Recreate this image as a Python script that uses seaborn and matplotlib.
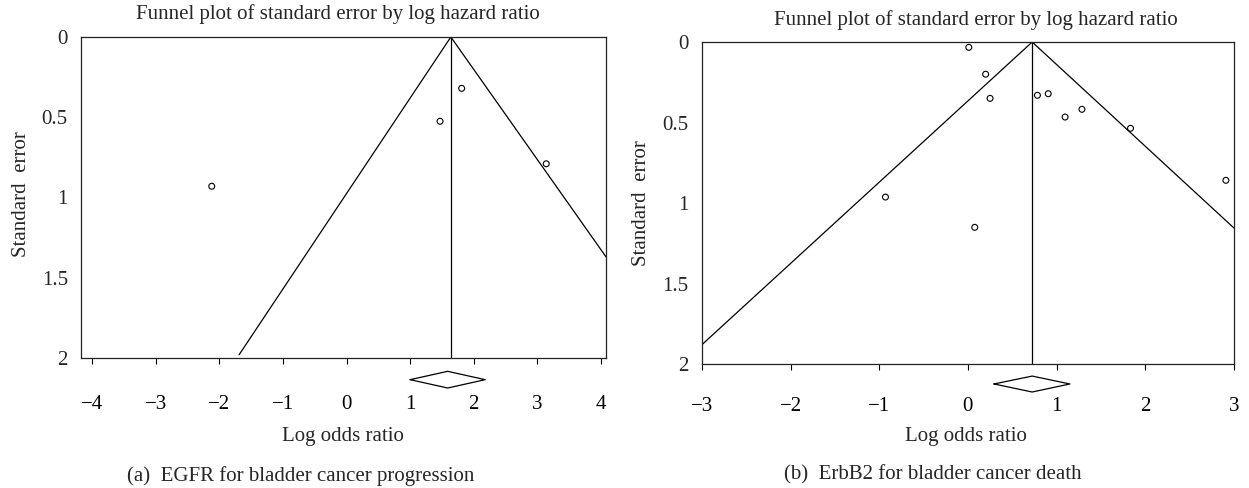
import matplotlib
matplotlib.use("Agg")
import matplotlib.pyplot as plt
import pandas as pd
import seaborn as sns

sns.set_theme(style="white")
plt.rcParams["font.family"] = ["Liberation Serif", "DejaVu Serif"]

# Dados - painel (a) EGFR
a_log_or = [-2.12, 1.47, 1.81, 3.14]
a_se = [0.93, 0.525, 0.32, 0.79]
a_pooled = 1.64
a_funnel_x = [-1.69, 1.64, 4.08]
a_funnel_y = [1.98, 0.0, 1.37]
a_diamond_x = [1.0, 1.59, 2.18, 1.59, 1.0]
a_diamond_y = [2.135, 2.083, 2.135, 2.187, 2.135]
a_xticks = [-4, -3, -2, -1, 0, 1, 2, 3, 4]
a_xlim = (-4.175, 4.08)

# Dados - painel (b) ErbB2
b_log_or = [0.01, 0.2, 0.25, -0.93, 0.077, 0.784, 0.906, 1.096, 1.286, 1.834, 2.91]
b_se = [0.033, 0.20, 0.35, 0.963, 1.151, 0.331, 0.321, 0.466, 0.418, 0.536, 0.859]
b_pooled = 0.725
b_funnel_x = [-3.0, 0.725, 3.0]
b_funnel_y = [1.88, 0.0, 1.155]
b_diamond_x = [0.294, 0.725, 1.15, 0.725, 0.294]
b_diamond_y = [2.124, 2.075, 2.124, 2.174, 2.124]
b_xticks = [-3, -2, -1, 0, 1, 2, 3]
b_xlim = (-3.0, 3.0)

yticks = [0, 0.5, 1, 1.5, 2]
ytick_labels = ["0", "0.5", "1", "1.5", "2"]

TITULO = "Funnel plot of standard error by log hazard ratio"
FS = 15

fig = plt.figure(figsize=(12.49, 4.88), dpi=100)
ax_a = fig.add_axes([0.0649, 0.2664, 0.4203, 0.6578])
ax_b = fig.add_axes([0.5620, 0.2541, 0.4259, 0.6598])


def desenhar(ax, log_or, se, pooled, fx, fy, dx, dy, xticks, xlim,
             title_pos, ylabel_pos, xlabel_pos, xpad):
    df = pd.DataFrame({"log_or": log_or, "se": se})
    funil = pd.DataFrame({"x": fx, "y": fy})
    sns.lineplot(data=funil, x="x", y="y", sort=False, color="black",
                 linewidth=0.9, ax=ax)
    ax.plot([pooled, pooled], [0, 2], color="black", linewidth=0.9)
    sns.scatterplot(data=df, x="log_or", y="se", marker="o", s=18,
                    facecolor="none", edgecolor="black", linewidth=0.8,
                    ax=ax, zorder=3)
    ax.plot(dx, dy, color="black", linewidth=0.9, clip_on=False)

    ax.set_xlim(*xlim)
    ax.set_ylim(2, 0)
    ax.set_xticks(xticks)
    ax.set_yticks(yticks)
    ax.set_yticklabels(ytick_labels)
    ax.tick_params(axis="x", bottom=True, length=4, width=0.8, direction="out",
                   pad=xpad, labelsize=FS, colors="black")
    ax.tick_params(axis="y", left=False, length=0, pad=9.5, labelsize=FS)
    for s in ax.spines.values():
        s.set_color("#222222")
        s.set_linewidth(0.9)
    ax.set_title(TITULO, fontsize=FS, x=title_pos[0], y=title_pos[1], pad=0)
    ax.title.set_va("center")
    ax.set_ylabel("Standard  error", fontsize=FS, va="center")
    ax.yaxis.set_label_coords(*ylabel_pos)
    ax.set_xlabel("Log odds ratio", fontsize=FS, va="center")
    ax.xaxis.set_label_coords(*xlabel_pos)


desenhar(ax_a, a_log_or, a_se, a_pooled, a_funnel_x, a_funnel_y,
         a_diamond_x, a_diamond_y, a_xticks, a_xlim,
         (0.49, 1.071), (-0.113, 0.51), (0.499, -0.246), 23)
desenhar(ax_b, b_log_or, b_se, b_pooled, b_funnel_x, b_funnel_y,
         b_diamond_x, b_diamond_y, b_xticks, b_xlim,
         (0.515, 1.069), (-0.113, 0.5), (0.496, -0.224), 20)

fig.text(0.2405, 1 - 476 / 488, "(a)  EGFR for bladder cancer progression",
         ha="center", va="center", fontsize=FS)
fig.text(0.747, 1 - 475 / 488, "(b)  ErbB2 for bladder cancer death",
         ha="center", va="center", fontsize=FS)

fig.savefig("out.png", dpi=100)
plt.close(fig)
